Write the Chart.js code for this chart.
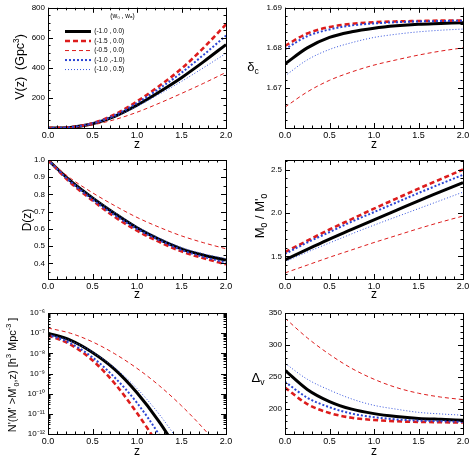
<!DOCTYPE html>
<html>
<head>
<meta charset="utf-8">
<script src="https://cdn.jsdelivr.net/npm/chart.js@4.4.1/dist/chart.umd.min.js"></script>
<style>
body{margin:0;background:#fff;width:474px;height:459px;position:relative;overflow:hidden}
canvas{position:absolute}
</style>
</head>
<body>
<canvas id="c1" width="237" height="152" style="left:0;top:0"></canvas>
<canvas id="c2" width="237" height="152" style="left:237px;top:0"></canvas>
<canvas id="c3" width="237" height="152" style="left:0;top:150px"></canvas>
<canvas id="c4" width="237" height="152" style="left:237px;top:150px"></canvas>
<canvas id="c5" width="237" height="159" style="left:0;top:300px"></canvas>
<canvas id="c6" width="237" height="159" style="left:237px;top:300px"></canvas>
<script>

const z = [0, 0.25, 0.5, 0.75, 1.0, 1.25, 1.5, 1.75, 2.0];
const models = ['(-1.0 , 0.0)', '(-1.5 , 0.0)', '(-0.5 , 0.0)', '(-1.0 ,-1.0)', '(-1.0 , 0.5)'];

// V(z) in Gpc^3
const volA = [0, 4, 28, 78, 152, 240, 335, 442, 555];
const volB = [0, 5, 32, 90, 177, 280, 395, 535, 690];
const volC = [0, 3, 21, 56, 105, 165, 230, 298, 370];
const volD = [0, 5, 31, 85, 166, 262, 368, 488, 615];
const volE = [0, 4, 27, 74, 144, 225, 310, 402, 497];

// delta_c
const dcA = [1.6760, 1.6800, 1.6826, 1.6840, 1.6849, 1.6855, 1.6859, 1.6861, 1.6863];
const dcB = [1.6805, 1.6836, 1.6852, 1.6860, 1.6864, 1.6866, 1.6867, 1.6868, 1.6868];
const dcC = [1.6652, 1.6690, 1.6719, 1.6740, 1.6757, 1.6770, 1.6782, 1.6792, 1.6800];
const dcD = [1.6797, 1.6829, 1.6846, 1.6856, 1.6861, 1.6864, 1.6866, 1.6867, 1.6868];
const dcE = [1.6730, 1.6770, 1.6796, 1.6813, 1.6826, 1.6834, 1.6840, 1.6844, 1.6847];

// D(z)
const grA = [1.0, 0.88, 0.78, 0.69, 0.607, 0.54, 0.485, 0.448, 0.42];
const grB = [1.0, 0.87, 0.765, 0.67, 0.59, 0.525, 0.47, 0.43, 0.395];
const grC = [1.0, 0.895, 0.81, 0.735, 0.667, 0.61, 0.56, 0.52, 0.485];
const grD = [1.0, 0.875, 0.77, 0.68, 0.60, 0.535, 0.478, 0.438, 0.405];
const grE = [1.0, 0.882, 0.784, 0.695, 0.614, 0.548, 0.493, 0.456, 0.428];

// M0 / M'0
const mA = [1.46, 1.58, 1.70, 1.81, 1.92, 2.03, 2.14, 2.245, 2.35];
const mB = [1.55, 1.68, 1.81, 1.93, 2.05, 2.165, 2.28, 2.39, 2.50];
const mC = [1.31, 1.40, 1.49, 1.575, 1.66, 1.74, 1.82, 1.895, 1.965];
const mD = [1.53, 1.66, 1.78, 1.90, 2.01, 2.12, 2.23, 2.335, 2.44];
const mE = [1.44, 1.55, 1.655, 1.76, 1.86, 1.955, 2.05, 2.145, 2.24];

// N'(M'>M'0, z) in h^3 Mpc^-3
const nA = [1.0e-7, 4.5e-8, 1.1e-8, 1.6e-9, 1.1e-10, 4.0e-12, 7.9e-14, null, null];
const nB = [7.9e-8, 2.8e-8, 4.5e-9, 3.2e-10, 1.1e-11, 2.5e-13, null, null, null];
const nC = [1.8e-7, 1.0e-7, 3.7e-8, 9.5e-9, 1.8e-9, 2.5e-10, 2.5e-11, 1.8e-12, 8.9e-14];
const nD = [8.5e-8, 3.2e-8, 6.3e-9, 6.3e-10, 3.5e-11, 8.9e-13, 1.0e-14, null, null];
const nE = [8.9e-8, 4.2e-8, 1.15e-8, 1.9e-9, 1.8e-10, 9.5e-12, 2.8e-13, null, null];

// Delta_v
const dvA = [260, 230, 211, 199, 192, 187.5, 184.5, 183, 181.7];
const dvB = [233, 207, 193, 185.5, 182, 180, 179, 178.5, 178];
const dvC = [342, 311, 285, 263, 246, 233, 224, 218, 214];
const dvD = [242, 217, 202, 192, 186.5, 183, 181, 180, 179];
const dvE = [271, 246, 229, 215, 205, 199, 194, 191.5, 189.5];

const lineStyles = [
  {color: '#000000', width: 3, dash: []},
  {color: '#dd1c1c', width: 2.6, dash: [5, 3]},
  {color: '#dd1c1c', width: 1, dash: [4, 3]},
  {color: '#2b45d4', width: 2, dash: [2, 2]},
  {color: '#3352dc', width: 1, dash: [1, 2]}
];

const FONT = "'Liberation Sans', Arial, Helvetica, sans-serif";
Chart.defaults.font.family = FONT;
Chart.defaults.color = '#000';

const supMap = {'-': '\u207B', '0': '\u2070', '1': '\u00B9', '2': '\u00B2', '3': '\u00B3', '4': '\u2074', '5': '\u2075', '6': '\u2076', '7': '\u2077', '8': '\u2078', '9': '\u2079'};
const sup = n => String(n).split('').map(c => supMap[c]).join('');

function linTicks(min, max, step) {
  const out = [];
  for (let v = Math.ceil(min / step - 1e-9) * step; v <= max + 1e-9; v += step) out.push(v);
  return out;
}

function drawRich(ctx, parts, x, y, size, rotate) {
  ctx.save();
  ctx.translate(x, y);
  if (rotate) ctx.rotate(-Math.PI / 2);
  ctx.fillStyle = '#000';
  ctx.textBaseline = 'alphabetic';
  const fontOf = p => (p.s ? size * 0.66 : size) + 'px ' + FONT;
  let w = 0;
  for (const p of parts) { ctx.font = fontOf(p); w += ctx.measureText(p.t).width; }
  let cx = -w / 2;
  for (const p of parts) {
    ctx.font = fontOf(p);
    const dy = p.s === 'sup' ? -size * 0.4 : p.s === 'sub' ? size * 0.25 : 0;
    ctx.fillText(p.t, cx, size * 0.35 + dy);
    cx += ctx.measureText(p.t).width;
  }
  ctx.restore();
}

// box frame with inward ticks on all four sides, plus y title
const frameTicks = {
  id: 'frameTicks',
  afterLayout(chart, args, o) {
    if (o.legendShift && chart.legend) {
      const [dx, dy] = o.legendShift;
      chart.legend.left += dx; chart.legend.right += dx;
      chart.legend.top += dy; chart.legend.bottom += dy;
    }
  },
  afterDraw(chart, args, o) {
    const {ctx, chartArea: a, scales} = chart;
    const xs = scales.x, ys = scales.y;
    ctx.save();
    ctx.strokeStyle = '#000';
    ctx.lineWidth = 1;
    ctx.strokeRect(Math.round(a.left) + 0.5, Math.round(a.top) + 0.5, Math.round(a.right - a.left), Math.round(a.bottom - a.top));
    ctx.beginPath();
    const xt = (v, len) => {
      const p = Math.round(xs.getPixelForValue(v)) + 0.5;
      ctx.moveTo(p, a.bottom); ctx.lineTo(p, a.bottom - len);
      ctx.moveTo(p, a.top); ctx.lineTo(p, a.top + len);
    };
    const yt = (v, len) => {
      const p = Math.round(ys.getPixelForValue(v)) + 0.5;
      ctx.moveTo(a.left, p); ctx.lineTo(a.left + len, p);
      ctx.moveTo(a.right, p); ctx.lineTo(a.right - len, p);
    };
    linTicks(xs.min, xs.max, 0.1).forEach(v => xt(v, 2.5));
    linTicks(xs.min, xs.max, 0.5).forEach(v => xt(v, 5));
    if (o.log) {
      for (let e = -12; e <= -6; e++) {
        yt(Math.pow(10, e), 5);
        if (e < -6) for (let m = 2; m <= 9; m++) yt(m * Math.pow(10, e), 2.5);
      }
    } else {
      linTicks(ys.min, ys.max, o.minor).forEach(v => yt(v, 2.5));
      linTicks(ys.min, ys.max, o.major).forEach(v => yt(v, 5));
    }
    ctx.stroke();
    ctx.restore();
    drawRich(ctx, o.title, o.tx, o.ty, o.tsize, o.rotate);
  }
};

function legendItems(chart) {
  return Chart.defaults.plugins.legend.labels.generateLabels(chart).map(item => {
    const ds = chart.data.datasets[item.datasetIndex];
    item.lineDash = ds.borderDash;
    item.lineWidth = ds.borderWidth;
    item.strokeStyle = ds.borderColor;
    return item;
  });
}

function makePanel(id, cfg) {
  const datasets = cfg.series.map((vals, i) => ({
    label: models[i],
    data: z.map((zz, k) => ({x: zz, y: vals[k]})),
    borderColor: lineStyles[i].color,
    borderWidth: lineStyles[i].width,
    borderDash: lineStyles[i].dash,
    pointRadius: 0,
    fill: false,
    cubicInterpolationMode: 'monotone'
  })).reverse();

  const yScale = cfg.log ? {
    type: 'logarithmic', min: 1e-12, max: 1e-6,
    ticks: {
      autoSkip: false, font: {size: 8}, padding: 3,
      callback: v => {
        const e = Math.log10(v);
        return Math.abs(e - Math.round(e)) < 1e-6 ? '10' + sup(Math.round(e)) : '';
      }
    }
  } : {
    type: 'linear', min: cfg.ymin, max: cfg.ymax,
    ticks: {
      stepSize: cfg.major, includeBounds: false, autoSkip: false, font: {size: 8}, padding: 3,
      callback: v => cfg.hide && cfg.hide.some(h => Math.abs(h - v) < 1e-9) ? '' : v.toFixed(cfg.dec)
    }
  };
  yScale.grid = {display: false, drawTicks: false};
  yScale.border = {display: false};
  yScale.afterFit = s => { s.width = 48; };

  new Chart(document.getElementById(id), {
    type: 'line',
    data: {datasets},
    options: {
      responsive: false,
      animation: false,
      layout: {padding: {left: 0, right: 11, top: cfg.top, bottom: 0}},
      scales: {
        x: {
          type: 'linear', min: 0, max: 2,
          ticks: {stepSize: 0.5, includeBounds: false, autoSkip: false, maxRotation: 0, font: {size: 9}, padding: 2, callback: v => v.toFixed(1)},
          grid: {display: false, drawTicks: false},
          border: {display: false},
          title: {display: true, text: 'z', font: {size: 12}, padding: {top: 0, bottom: cfg.zpad}},
          afterFit: s => { s.height = cfg.xh; }
        },
        y: yScale
      },
      plugins: {
        tooltip: {enabled: false},
        legend: cfg.legend ? {
          display: true,
          position: 'chartArea',
          align: 'start',
          reverse: true,
          title: {display: true, text: '(w\u2080 , w\u2090)', position: 'end', font: {size: 6.5}, padding: {top: 4, bottom: 5}},
          labels: {usePointStyle: true, pointStyle: 'line', pointStyleWidth: 26, font: {size: 6.5}, padding: 3, color: '#000', generateLabels: legendItems}
        } : {display: false},
        frameTicks: {
          log: cfg.log, major: cfg.major, minor: cfg.minor,
          title: cfg.title, tx: cfg.tx, ty: cfg.ty, tsize: cfg.tsize, rotate: cfg.rotate,
          legendShift: cfg.legend ? [14, 8.5] : null
        }
      }
    },
    plugins: [frameTicks]
  });
}

makePanel('c1', {
  series: [volA, volB, volC, volD, volE], ymin: 0, ymax: 800, major: 200, minor: 50, dec: 0, hide: [0],
  top: 7, xh: 24, zpad: 0, legend: true,
  title: [{t: 'V(z)  (Gpc'}, {t: '3', s: 'sup'}, {t: ')'}], tx: 20, ty: 67, tsize: 12.5, rotate: true
});
makePanel('c2', {
  series: [dcA, dcB, dcC, dcD, dcE], ymin: 1.66, ymax: 1.69, major: 0.01, minor: 0.002, dec: 2, hide: [1.66],
  top: 7, xh: 24, zpad: 0,
  title: [{t: '\u03B4'}, {t: 'c', s: 'sub'}], tx: 16, ty: 66, tsize: 13, rotate: false
});
makePanel('c3', {
  series: [grA, grB, grC, grD, grE], ymin: 0.31, ymax: 1.0, major: 0.1, minor: 0.05, dec: 1,
  top: 10, xh: 23, zpad: 0,
  title: [{t: 'D(z)'}], tx: 27, ty: 70, tsize: 12, rotate: true
});
makePanel('c4', {
  series: [mA, mB, mC, mD, mE], ymin: 1.24, ymax: 2.61, major: 0.5, minor: 0.1, dec: 1,
  top: 10, xh: 23, zpad: 0,
  title: [{t: 'M'}, {t: '0', s: 'sub'}, {t: ' / M\''}, {t: '0', s: 'sub'}], tx: 22, ty: 66, tsize: 13, rotate: true
});
makePanel('c5', {
  series: [nA, nB, nC, nD, nE], log: true,
  top: 13, xh: 25, zpad: 0,
  title: [{t: 'N\'(M\' >M\''}, {t: '0', s: 'sub'}, {t: ',z) [h'}, {t: '3', s: 'sup'}, {t: ' Mpc'}, {t: '-3', s: 'sup'}, {t: ' ]'}],
  tx: 12, ty: 75, tsize: 11, rotate: true
});
makePanel('c6', {
  series: [dvA, dvB, dvC, dvD, dvE], ymin: 160, ymax: 350, major: 50, minor: 10, dec: 0,
  top: 13, xh: 25, zpad: 0,
  title: [{t: '\u0394'}, {t: 'v', s: 'sub'}], tx: 21, ty: 77, tsize: 13, rotate: false
});
</script>
</body>
</html>
